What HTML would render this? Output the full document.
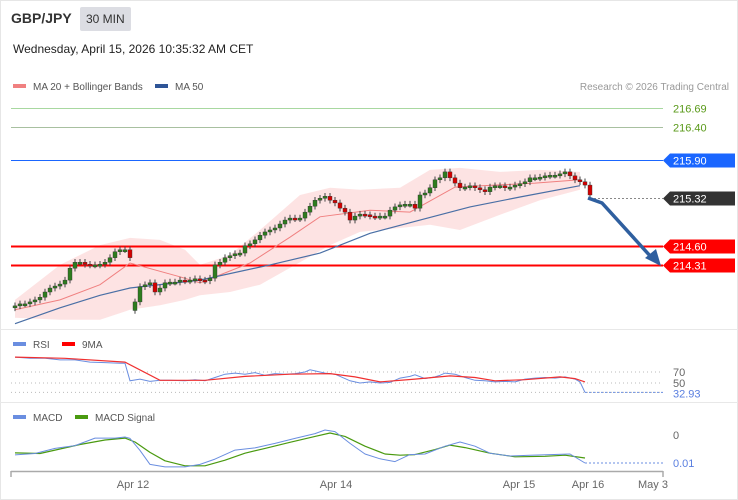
<!DOCTYPE html>
<html><head><meta charset="utf-8"><style>
body{margin:0;background:#fff;font-family:"Liberation Sans",sans-serif}
#wrap{position:relative;width:738px;height:500px;overflow:hidden}
#frame{position:absolute;left:0;top:0;width:736px;height:498px;border:1px solid #e6e6e6}
svg{position:absolute;left:0;top:0}
svg text{font-family:"Liberation Sans",sans-serif}
</style></head><body>
<div id="wrap">
<div id="frame"></div>
<svg id="s" width="738" height="500">
<text x="11" y="23" font-size="14" font-weight="bold" fill="#333">GBP/JPY</text>
<rect x="80" y="7" width="51" height="24" rx="2" fill="#dcdde3"/>
<text x="86" y="23" font-size="12" fill="#333">30 MIN</text>
<text x="13" y="53" font-size="12" fill="#222">Wednesday, April 15, 2026 10:35:32 AM CET</text>
<rect x="13" y="84" width="13" height="4" fill="#f08080"/>
<text x="33" y="90" font-size="10" fill="#555">MA 20 + Bollinger Bands</text>
<rect x="155" y="84" width="13" height="4" fill="#2f5597"/>
<text x="175" y="90" font-size="10" fill="#555">MA 50</text>
<text x="729" y="90" font-size="10" fill="#999" text-anchor="end">Research © 2026 Trading Central</text>
<line x1="0" y1="329.5" x2="738" y2="329.5" stroke="#e8e8e8"/>
<line x1="0" y1="402.5" x2="738" y2="402.5" stroke="#e8e8e8"/>
<rect x="13" y="342" width="13" height="4" fill="#6a8ee0"/>
<text x="33" y="348" font-size="10" fill="#555">RSI</text>
<rect x="62" y="342" width="13" height="4" fill="#f00"/>
<text x="82" y="348" font-size="10" fill="#555">9MA</text>
<rect x="13" y="415" width="13" height="4" fill="#6a8ee0"/>
<text x="33" y="421" font-size="10" fill="#555">MACD</text>
<rect x="75" y="415" width="13" height="4" fill="#4a9a10"/>
<text x="95" y="421" font-size="10" fill="#555">MACD Signal</text>
<g id="g"></g>
</svg></div>
<script>
const closes=[213.69,213.72,213.72,213.75,213.78,213.82,213.90,213.96,213.99,214.02,214.08,214.26,214.35,214.35,214.32,214.31,214.31,214.32,214.35,214.42,214.51,214.54,214.54,214.42,213.75,213.98,214.01,214.04,213.90,213.96,214.04,214.05,214.05,214.08,214.07,214.08,214.10,214.08,214.07,214.11,214.31,214.35,214.42,214.45,214.48,214.49,214.60,214.63,214.69,214.76,214.81,214.84,214.87,214.93,214.99,215.02,215.01,215.02,215.11,215.20,215.29,215.32,215.35,215.29,215.25,215.17,215.11,214.99,215.05,215.08,215.07,215.05,215.04,215.05,215.05,215.14,215.19,215.22,215.23,215.23,215.17,215.37,215.40,215.48,215.60,215.63,215.72,215.63,215.55,215.48,215.49,215.51,215.48,215.45,215.42,215.49,215.51,215.51,215.48,215.49,215.52,215.54,215.57,215.63,215.63,215.64,215.66,215.67,215.67,215.69,215.72,215.66,215.60,215.57,215.52,215.37];
const gapIdx=[24];
const gapOpen=[213.62];
const ma50Idx=[0,9,17,23,37,51,61,71,81,91,101,113];
const ma50=[213.42,213.66,213.85,213.96,214.08,214.31,214.49,214.79,214.99,215.19,215.34,215.51];
const ma20Idx=[0,9,17,23,33,37,47,55,61,71,79,88,104,113];
const ma20=[213.63,213.78,214.01,214.34,214.13,214.04,214.34,214.73,215.04,215.14,215.11,215.49,215.55,215.60];
const bandIdx=[0,9,17,23,29,34,37,43,49,57,63,69,77,83,89,97,105,113];
const upper=[213.78,214.31,214.61,214.72,214.69,214.54,214.31,214.46,214.84,215.37,215.48,215.45,215.48,215.75,215.78,215.72,215.75,215.72];
const lower=[213.51,213.48,213.48,213.63,213.70,213.78,213.85,213.90,214.01,214.35,214.61,214.81,214.87,214.92,214.84,215.07,215.29,215.45];
const levels=[216.69,216.40,215.90,215.32,214.60,214.31];
const rsiIdx=[0,3,6,9,12,15,18,21,22,23,25,27,29,31,34,36,38,40,42,44,46,48,50,52,54,56,58,59,60,62,64,66,67,69,71,73,75,77,79,80,82,84,85,86,88,90,92,94,96,98,100,102,104,106,108,110,112,113,114];
const rsi=[97,95,95,92,92,88,87,86,86,54,57,53,55,55,54,56,54,60,66,68,66,69,64,67,66,67,70,74,72,68,66,58,54,50,52,50,51,59,62,65,58,61,64,68,66,60,55,54,52,53,52,57,59,60,59,61,57,52,33];
const rsiMaIdx=[0,10,22,29,38,46,55,63,68,73,80,87,92,96,102,109,112,114];
const rsiMa=[97,95,88,55,55,62,66,67,61,52,57,63,60,54,56,61,58,52];
const macdIdx=[0,4,8,12,16,20,22,23,25,27,30,34,37,40,44,48,52,56,60,62,64,67,70,73,76,79,82,86,89,92,95,99,103,107,111,114];
const macd=[-0.71,-0.66,-0.48,-0.38,-0.11,-0.11,-0.07,-0.12,-0.55,-1.05,-1.14,-1.14,-1.05,-0.86,-0.54,-0.46,-0.30,-0.12,0.05,0.18,0.12,-0.30,-0.68,-0.85,-0.95,-0.70,-0.68,-0.40,-0.25,-0.40,-0.65,-0.75,-0.72,-0.70,-0.68,-1.0];
const sigIdx=[0,5,9,13,18,22,24,27,30,34,38,42,46,50,55,60,63,66,70,74,77,80,84,87,90,95,100,106,110,114];
const sig=[-0.64,-0.66,-0.50,-0.34,-0.18,-0.11,-0.25,-0.62,-0.92,-1.10,-1.10,-0.90,-0.65,-0.48,-0.26,-0.05,0.07,-0.05,-0.40,-0.68,-0.72,-0.70,-0.52,-0.36,-0.45,-0.65,-0.78,-0.76,-0.72,-0.82];
const xTicks=["Apr 12","Apr 14","Apr 15","Apr 16","May 3"];
const xTickIdx=[23.6,64.2,100.8,114.6,127.6];

const NS="http://www.w3.org/2000/svg",g=document.getElementById('g');
const xOf=i=>15+i*5;
const yP=p=>160+(215.90-p)*66;
const yR=v=>383-(v-50)*0.55;
const yM=v=>435-v*28;
function mk(t,a){const e=document.createElementNS(NS,t);for(const k in a)e.setAttribute(k,a[k]);g.appendChild(e);return e;}
function pts(ix,vs,yf){return ix.map((i,k)=>xOf(i).toFixed(1)+','+yf(vs[k]).toFixed(1)).join(' ');}
let bp=bandIdx.map((i,k)=>xOf(i)+','+yP(upper[k]).toFixed(1)).concat(bandIdx.slice().reverse().map((i,k)=>xOf(i)+','+yP(lower[lower.length-1-k]).toFixed(1))).join(' ');
let e=mk('polygon',{points:bp,fill:'#fde0e0',opacity:'0.9'});


const lvCol=['#a8d8a0','#a8c0a0','#1a66ff','#999','#f00','#f00'];
const tagCol=[null,null,'#1a66ff','#333','#f00','#f00'];
const lvNames=['resistance-216-69','resistance-216-40','pivot-215-90','last-price-215-32','support-214-60','support-214-31'];
levels.forEach((v,k)=>{const y=Math.round(yP(v))+0.5;
 if(k!==3){e=mk('line',{x1:11,x2:663,y1:y,y2:y,stroke:lvCol[k],'stroke-width':k>=4?2:1});
 
 }
 if(tagCol[k]){e=mk('polygon',{points:`663,${y} 670,${y-7} 735,${y-7} 735,${y+7} 670,${y+7}`,fill:tagCol[k]});
 
 }
 e=mk('text',{x:673,y:y+4,'font-size':11,fill:tagCol[k]?'#fff':'#5a9a1a'});e.textContent=v.toFixed(2);
 
 
});
e=mk('line',{x1:590,x2:663,y1:Math.round(yP(levels[3]))+0.5,y2:Math.round(yP(levels[3]))+0.5,stroke:'#888','stroke-dasharray':'2,2'});


e=mk('polyline',{points:pts(ma20Idx,ma20,yP),fill:'none',stroke:'#f08080','stroke-width':1});


e=mk('polyline',{points:pts(ma50Idx,ma50,yP),fill:'none',stroke:'#4a6fa5','stroke-width':1.2});


closes.forEach((c,i)=>{let o=i?closes[i-1]:c-0.03;const gi=gapIdx.indexOf(i);if(gi>=0)o=gapOpen[gi];
 const x=xOf(i);const hi=Math.max(o,c)+0.05,lo=Math.min(o,c)-0.05;
 const up=c>=o;const col=up?'#2e7d1e':'#d40000';
 e=mk('line',{x1:x,x2:x,y1:yP(hi),y2:yP(lo),stroke:'#444','stroke-width':1});
 
 
 const t=yP(Math.max(o,c)),b=yP(Math.min(o,c));
 e=mk('rect',{x:x-2,y:t,width:4,height:Math.max(2,b-t),fill:col,stroke:'#333','stroke-width':0.4});
 
 
});
e=mk('polyline',{points:'588,198 602,203 652,258',fill:'none',stroke:'#2f5f9f','stroke-width':3.5});


e=mk('polygon',{points:'661,266 645,258 656,249',fill:'#2f5f9f'});


[70,50,32.93].forEach((v,k)=>{const y=yR(v);
 e=mk('line',{x1:11,x2:663,y1:y,y2:y,stroke:'#bbb','stroke-dasharray':'1,3'});
 
 
 e=mk('text',{x:673,y:y+(k==2?5:4),'font-size':11,fill:k==2?'#5a7fe0':'#666'});e.textContent=k==2?'32.93':String(v);
 
 });
e=mk('line',{x1:xOf(114),x2:663,y1:yR(33),y2:yR(33),stroke:'#6a8ee0','stroke-dasharray':'2,2'});


e=mk('polyline',{points:pts(rsiIdx,rsi,yR),fill:'none',stroke:'#6a8ee0','stroke-width':1});


e=mk('polyline',{points:pts(rsiMaIdx,rsiMa,yR),fill:'none',stroke:'#f03030','stroke-width':1.2});


e=mk('text',{x:673,y:439,'font-size':11,fill:'#666'});e.textContent='0';


e=mk('text',{x:673,y:467,'font-size':11,fill:'#5a7fe0'});e.textContent='0.01';


e=mk('line',{x1:xOf(114),x2:663,y1:yM(-1),y2:yM(-1),stroke:'#6a8ee0','stroke-dasharray':'2,2'});


e=mk('polyline',{points:pts(sigIdx,sig,yM),fill:'none',stroke:'#4a9a10','stroke-width':1.2,'stroke-linejoin':'round'});


e=mk('polyline',{points:pts(macdIdx,macd,yM),fill:'none',stroke:'#6a8ee0','stroke-width':1,'stroke-linejoin':'round'});


e=mk('line',{x1:11,x2:663,y1:471.5,y2:471.5,stroke:'#aaa','stroke-width':1.5});


[11,663].forEach(x=>{e=mk('line',{x1:x,x2:x,y1:471,y2:477,stroke:'#aaa','stroke-width':1.5});
 
 });
xTicks.forEach((t,k)=>{e=mk('text',{x:xOf(xTickIdx[k]),y:488,'font-size':11,fill:'#666','text-anchor':'middle'});e.textContent=t;
 
 });
</script>
</body></html>
